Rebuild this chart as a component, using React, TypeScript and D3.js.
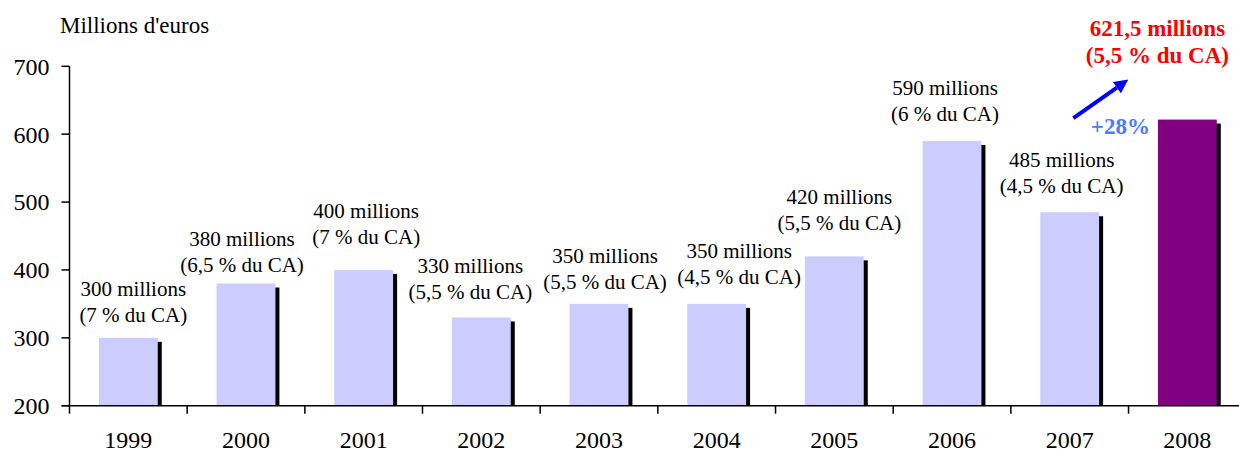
import React from "react";
import * as d3 from "d3";

const years = ["1999", "2000", "2001", "2002", "2003", "2004", "2005", "2006", "2007", "2008"];
const values = [300, 380, 400, 330, 350, 350, 420, 590, 485, 621.5];
const amountLabels = ["300 millions", "380 millions", "400 millions", "330 millions", "350 millions", "350 millions", "420 millions", "590 millions", "485 millions", "621,5 millions"];
const shareLabels = ["(7 % du CA)", "(6,5 % du CA)", "(7 % du CA)", "(5,5 % du CA)", "(5,5 % du CA)", "(4,5 % du CA)", "(5,5 % du CA)", "(6 % du CA)", "(4,5 % du CA)", "(5,5 % du CA)"];
const yTicks = [200, 300, 400, 500, 600, 700];
const growthLabel = "+28%";
const yTitle = "Millions d'euros";

// layout: label offsets relative to bar top-center (px)
const labelDx = [5, -4, 2.5, -11, 6, 22.5, 5, -7, -8, -30];
const labelDy = [-42, -37.5, -51.5, -44, -40.5, -45.5, -52.5, -46, -45.5, -83.5];

const W = 1239;
const H = 454;
const left = 69.5;
const band = 117.67;
const font = '"Liberation Serif", "Times New Roman", Times, serif';

export default function App() {
  const x = d3.scaleBand<string>().domain(years).range([left, left + band * years.length]).paddingInner(0.5).paddingOuter(0.25);
  const y = d3.scaleLinear().domain([200, 700]).range([405.7, 66.3]);
  const bw = x.bandwidth();
  const step = x.step();
  const last = years.length - 1;
  const lastCx = (x(years[last]) as number) + bw / 2;
  const lastTop = y(values[last]);
  const a0 = [lastCx - 114, lastTop - 1.5];
  const a1 = [lastCx - 59, lastTop - 40];
  const ang = Math.atan2(a1[1] - a0[1], a1[0] - a0[0]);
  const hl = 14, hw = 7;
  const tip = a1;
  const baseX = tip[0] - hl * Math.cos(ang), baseY = tip[1] - hl * Math.sin(ang);
  const head = [
    [tip[0], tip[1]],
    [baseX + hw * Math.sin(ang), baseY - hw * Math.cos(ang)],
    [baseX - hw * Math.sin(ang), baseY + hw * Math.cos(ang)],
  ];
  return (
    <svg width={W} height={H} style={{ position: "absolute", left: 0, top: 0, background: "#fff", fontFamily: font }}>
      <rect x={0} y={0} width={W} height={H} fill="#fff" />
      <text x={60} y={33} fontSize={23} fill="#000">{yTitle}</text>
      {/* bars */}
      {years.map((yr, i) => {
        const bx = x(yr) as number;
        const top = y(values[i]);
        const bottom = y(200);
        return (
          <g key={yr}>
            <rect x={bx + 4} y={top + 4} width={bw} height={bottom - top - 4} fill="#000" />
            <rect x={bx} y={top} width={bw} height={bottom - top} fill={i === last ? "#800080" : "#CCCCFF"} />
          </g>
        );
      })}
      {/* axes */}
      <line x1={left} x2={left} y1={y(700)} y2={y(200)} stroke="#000" strokeWidth={1.5} />
      {yTicks.map((t) => (
        <g key={t}>
          <line x1={left - 8} x2={left} y1={y(t)} y2={y(t)} stroke="#000" strokeWidth={1.5} />
          <text x={left - 20} y={y(t)} dy="0.35em" textAnchor="end" fontSize={24} fill="#000">{t}</text>
        </g>
      ))}
      <line x1={left - 8} x2={W} y1={y(200)} y2={y(200)} stroke="#000" strokeWidth={1.5} />
      {d3.range(years.length + 1).map((k) => (
        <line key={k} x1={left + k * step} x2={left + k * step} y1={y(200)} y2={y(200) + 8} stroke="#000" strokeWidth={1.5} />
      ))}
      {years.map((yr) => (
        <text key={yr} x={(x(yr) as number) + bw / 2} y={448} textAnchor="middle" fontSize={24} fill="#000">{yr}</text>
      ))}
      {/* value labels */}
      {years.map((yr, i) => {
        const cx = (x(yr) as number) + bw / 2 + labelDx[i];
        const by = y(values[i]) + labelDy[i];
        const isLast = i === last;
        return (
          <text key={yr} x={cx} y={by} textAnchor="middle" fontSize={isLast ? 23 : 21}
            fontWeight={isLast ? "bold" : "normal"} fill={isLast ? "#FF0000" : "#000"}>
            <tspan x={cx}>{amountLabels[i]}</tspan>
            <tspan x={cx} dy={isLast ? 27.3 : 26}>{shareLabels[i]}</tspan>
          </text>
        );
      })}
      {/* growth arrow */}
      <line x1={a0[0]} y1={a0[1]} x2={baseX} y2={baseY} stroke="#0000FF" strokeWidth={4} />
      <polygon points={head.map((p) => p.join(",")).join(" ")} fill="#0000FF" />
      <text x={lastCx - 67} y={lastTop + 14.7} textAnchor="middle" fontSize={23} fontWeight="bold" fill="#4A7BFF">{growthLabel}</text>
    </svg>
  );
}
